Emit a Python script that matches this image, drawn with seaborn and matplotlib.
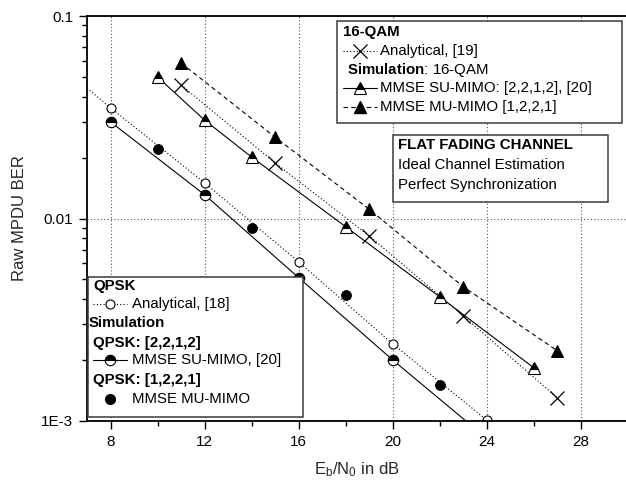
import matplotlib
matplotlib.use("Agg")
import matplotlib.pyplot as plt
from matplotlib.lines import Line2D
from matplotlib.patches import Rectangle
import matplotlib.ticker as mticker
import seaborn as sns

# ---------------- data ----------------
qpsk_ana_x = [7, 8, 12, 16, 20, 24]
qpsk_ana_y = [0.044, 0.0352, 0.0150, 0.0061, 0.0024, 0.00101]

qpsk_su_x = [8, 12, 16, 20, 24]
qpsk_su_y = [0.0300, 0.0131, 0.0051, 0.0020, 0.00082]

qpsk_mu_x = [10, 14, 18, 22]
qpsk_mu_y = [0.0220, 0.0090, 0.0042, 0.00151]

qam_ana_x = [11, 15, 19, 23, 27]
qam_ana_y = [0.0456, 0.0188, 0.0082, 0.0033, 0.0013]

qam_su_x = [10, 12, 14, 18, 22, 26]
qam_su_y = [0.050, 0.0306, 0.0201, 0.0091, 0.0041, 0.00183]

qam_mu_x = [11, 15, 19, 23, 27]
qam_mu_y = [0.0586, 0.0252, 0.0111, 0.0046, 0.00222]

x_ticks = [8, 12, 16, 20, 24, 28]
y_ticks = [0.001, 0.01, 0.1]
y_tick_labels = ["1E-3", "0.01", "0.1"]

# ---------------- style ----------------
sns.set_style("ticks")
plt.rcParams["font.family"] = ["Liberation Sans", "DejaVu Sans"]
plt.rcParams["mathtext.fontset"] = "custom"
plt.rcParams["mathtext.rm"] = "Liberation Sans"
plt.rcParams["mathtext.it"] = "Liberation Sans:italic"
plt.rcParams["mathtext.bf"] = "Liberation Sans:bold"

W, H = 626, 484
fig = plt.figure(figsize=(W / 100, H / 100), dpi=100)
ax = fig.add_axes([87 / W, 1 - 421 / H, (628 - 87) / W, (421 - 16) / H])

lw = 0.8
common = dict(estimator=None, sort=False, ax=ax, legend=False, color="black", linewidth=lw)

# QPSK analytical: dotted + open circles
sns.lineplot(x=qpsk_ana_x, y=qpsk_ana_y, linestyle=(0, (1, 2)), marker="o",
             markevery=list(range(1, len(qpsk_ana_x))), markersize=6.5,
             markerfacecolor="white", markeredgecolor="black", markeredgewidth=0.8,
             **common)
# QPSK SU-MIMO: solid + half circles
sns.lineplot(x=qpsk_su_x, y=qpsk_su_y, linestyle="-", marker="o", markersize=7.5,
             fillstyle="top", markerfacecolor="black", markerfacecoloralt="white",
             markeredgecolor="black", markeredgewidth=0.8, **common)
# QPSK MU-MIMO: filled circles only
sns.lineplot(x=qpsk_mu_x, y=qpsk_mu_y, linestyle="none", marker="o", markersize=7,
             markerfacecolor="black", markeredgecolor="black", **common)
# 16-QAM analytical: dotted + crosses
sns.lineplot(x=qam_ana_x, y=qam_ana_y, linestyle=(0, (1, 2)), marker="x", markersize=10,
             markeredgewidth=0.9, markeredgecolor="black", **common)
# 16-QAM SU-MIMO: solid + half triangles
sns.lineplot(x=qam_su_x, y=qam_su_y, linestyle="-", marker="^", markersize=9,
             fillstyle="top", markerfacecolor="black", markerfacecoloralt="white",
             markeredgecolor="black", markeredgewidth=0.8, **common)
# 16-QAM MU-MIMO: dashed + filled triangles
sns.lineplot(x=qam_mu_x, y=qam_mu_y, linestyle=(0, (4, 3)), marker="^", markersize=9,
             markerfacecolor="black", markeredgecolor="black", **common)

# ---------------- axes ----------------
ax.set_yscale("log")
ax.set_xlim(7, 30)
ax.set_ylim(0.001, 0.1)
ax.set_xticks(x_ticks)
ax.set_xticks([10, 14, 18, 22, 26, 30], minor=True)
ax.set_yticks(y_ticks)
ax.set_yticklabels(y_tick_labels)
ax.yaxis.set_minor_locator(mticker.LogLocator(base=10, subs=range(2, 10)))
ax.yaxis.set_minor_formatter(mticker.NullFormatter())
ax.tick_params(axis="both", which="major", direction="out", length=6, width=1.0,
               labelsize=11, color="black", labelcolor="black", pad=4)
ax.tick_params(axis="both", which="minor", direction="out", length=3.5, width=1.0,
               color="black")
for s in ax.spines.values():
    s.set_linewidth(1.3)
    s.set_color("black")
ax.grid(True, which="major", axis="x", linestyle=(0, (1, 2)), color="#555555", linewidth=0.8)
ax.grid(True, which="major", axis="y", linestyle=(0, (1, 2)), color="#555555", linewidth=0.8)
ax.set_axisbelow(True)
ax.set_ylabel("Raw MPDU BER", fontsize=12, labelpad=10)
ax.set_xlabel(r"E$_\mathrm{b}$/N$_\mathrm{0}$ in dB", fontsize=12)
ax.xaxis.label.set_va("center")
ax.xaxis.set_label_coords((357 - 87) / (628 - 87), -(470 - 421) / (421 - 16))


# ---------------- manual legends (pixel coordinates) ----------------
def fx(x):
    return x / W


def fy(y):
    return 1 - y / H


def box(x0, y0, x1, y1):
    fig.add_artist(Rectangle((fx(x0), fy(y1)), fx(x1) - fx(x0), fy(y0) - fy(y1),
                             transform=fig.transFigure, facecolor="white",
                             edgecolor="#3a3a3a", linewidth=1.1, zorder=5))


FS = 10.8


def txt(x, y, s, bold=False, size=FS):
    fig.text(fx(x), fy(y), s, fontsize=size, fontweight="bold" if bold else "normal",
             ha="left", va="center", zorder=6, color="black")


def handle(x0, x1, y, ls, **mk):
    if ls != "none":
        fig.add_artist(Line2D([fx(x0), fx(x1)], [fy(y), fy(y)], transform=fig.transFigure,
                              color="black", linewidth=lw, linestyle=ls, zorder=6))
    if mk:
        fig.add_artist(Line2D([fx((x0 + x1) / 2)], [fy(y)], transform=fig.transFigure,
                              linestyle="none", color="black", zorder=7, **mk))


# top-right legend
box(337, 21, 622, 123)
txt(343, 32, "16-QAM", bold=True)
handle(343, 377, 51, (0, (1, 2)), marker="x", markersize=10, markeredgewidth=0.9)
txt(380, 51, "Analytical, [19]")
txt(347, 70, r"$\mathbf{Simulation}$: 16-QAM")
handle(343, 377, 88, "-", marker="^", markersize=9, fillstyle="top",
       markerfacecolor="black", markerfacecoloralt="white", markeredgewidth=0.8)
txt(380, 88, "MMSE SU-MIMO: [2,2,1,2], [20]")
handle(343, 377, 107, (0, (4, 3)), marker="^", markersize=9, markerfacecolor="black")
txt(380, 107, "MMSE MU-MIMO [1,2,2,1]")

# channel box
box(393, 135, 608, 202)
txt(398, 145, "FLAT FADING CHANNEL", bold=True)
txt(398, 165, "Ideal Channel Estimation")
txt(398, 185, "Perfect Synchronization")

# bottom-left legend
box(88, 277, 303, 417)
txt(93, 286, "QPSK", bold=True)
handle(93, 127, 304, (0, (1, 2)), marker="o", markersize=6.5, markerfacecolor="white",
       markeredgewidth=0.8)
txt(132, 304, "Analytical, [18]")
txt(89, 323, "Simulation", bold=True)
txt(93, 343, "QPSK: [2,2,1,2]", bold=True)
handle(93, 127, 360, "-", marker="o", markersize=7.5, fillstyle="top",
       markerfacecolor="black", markerfacecoloralt="white", markeredgewidth=0.8)
txt(132, 360, "MMSE SU-MIMO, [20]")
txt(93, 380, "QPSK: [1,2,2,1]", bold=True)
handle(93, 127, 399, "none", marker="o", markersize=7, markerfacecolor="black")
txt(132, 399, "MMSE MU-MIMO")

fig.savefig("out.png", dpi=100)
